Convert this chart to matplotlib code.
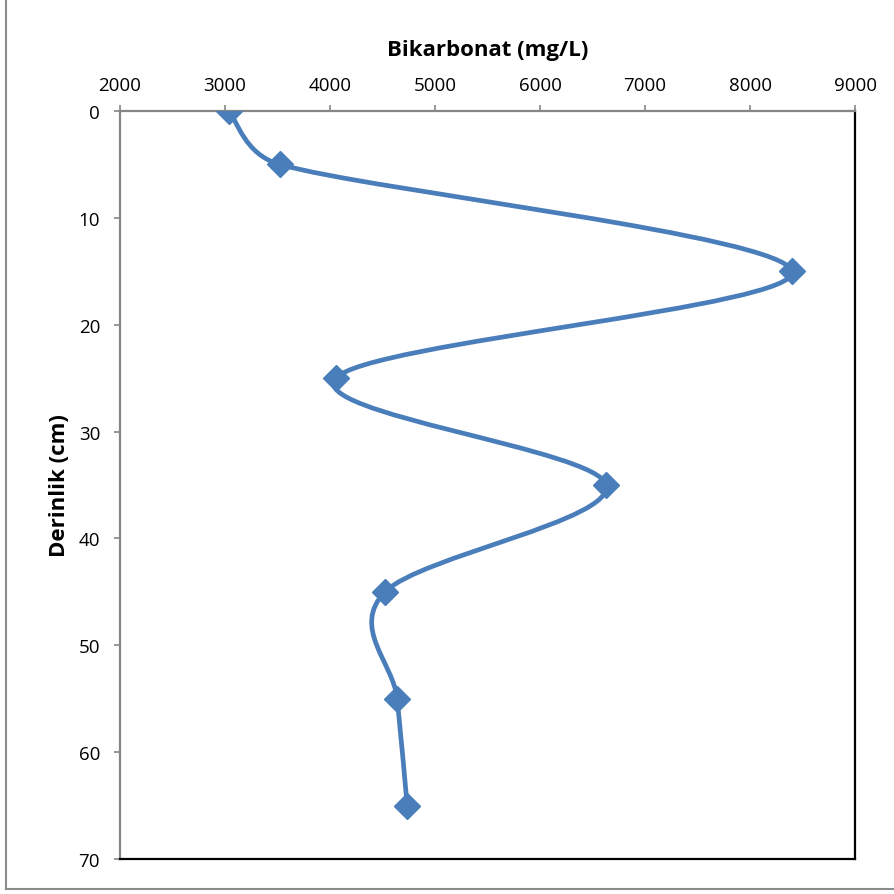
import numpy as np
import matplotlib.pyplot as plt
from matplotlib.path import Path
from matplotlib.patches import PathPatch
from matplotlib.lines import Line2D

# bicarbonate profile vs. depth
derinlik = [0, 5, 15, 25, 35, 45, 55, 65]
bikarbonat = [3035, 3520, 8400, 4055, 6630, 4525, 4640, 4735]

x_ticks = [2000, 3000, 4000, 5000, 6000, 7000, 8000, 9000]
y_ticks = [0, 10, 20, 30, 40, 50, 60, 70]

color = "#4A7EBB"

plt.rcParams["font.family"] = ["Open Sans", "DejaVu Sans"]

fig = plt.figure(figsize=(8.94, 8.95), dpi=100)
ax = fig.add_axes([0.1342, 0.0391, 0.8222, 0.8358])
ax.set_xlim(2000, 9000)
ax.set_ylim(70, 0)


def smooth_path(ax, xs, ys):
    # spreadsheet-style smoothing: Bezier segments with tangents (p2-p0)/6,
    # clamped to half the segment length, worked out in screen pixels
    fig.canvas.draw()
    tr = ax.transData
    pts = tr.transform(np.column_stack([xs, ys]).astype(float))
    n = len(pts)

    def ctrl(a, b, seg):
        v = (b - a) / 6.0
        L = np.hypot(*v)
        if L > seg / 2.0 and L > 0:
            v = v * (seg / 2.0) / L
        return v

    verts = [pts[0]]
    codes = [Path.MOVETO]
    for i in range(n - 1):
        p0 = pts[i - 1] if i > 0 else pts[i]
        p1 = pts[i]
        p2 = pts[i + 1]
        p3 = pts[i + 2] if i + 2 < n else pts[i + 1]
        seg = np.hypot(*(p2 - p1))
        c1 = p1 + ctrl(p0, p2, seg)
        c2 = p2 - ctrl(p1, p3, seg)
        verts += [c1, c2, p2]
        codes += [Path.CURVE4] * 3
    verts = tr.inverted().transform(np.array(verts))
    return Path(verts, codes)


ax.add_patch(PathPatch(smooth_path(ax, bikarbonat, derinlik), facecolor="none",
                       edgecolor=color, lw=3.4, capstyle="round",
                       joinstyle="round", zorder=2))
ax.plot(bikarbonat, derinlik, linestyle="none", marker="D", markersize=13.5,
        color=color, zorder=3)

ax.set_xticks(x_ticks)
ax.set_yticks(y_ticks)
ax.xaxis.tick_top()
ax.xaxis.set_label_position("top")
ax.tick_params(axis="x", direction="out", length=4.3, width=1.2, color="#868686",
               labelsize=13.5, pad=8)
ax.tick_params(axis="y", direction="out", length=4.3, width=1.2, color="#868686",
               labelsize=13.5, pad=10)

for s in ("top", "left"):
    ax.spines[s].set_color("#868686")
    ax.spines[s].set_linewidth(1.6)
for s in ("bottom", "right"):
    ax.spines[s].set_color("black")
    ax.spines[s].set_linewidth(1.6)

ax.set_xlabel("Bikarbonat (mg/L)", fontsize=16, fontweight="bold", labelpad=15)
ax.set_ylabel("Derinlik (cm)", fontsize=16, fontweight="bold", labelpad=6)

# chart area border
fig.add_artist(Line2D([0.0062, 0.0062], [0.006, 1.0], color="#8C8C8C", lw=1.5))
fig.add_artist(Line2D([0.0062, 1.0], [0.006, 0.006], color="#8C8C8C", lw=1.5))

fig.savefig("out.png", dpi=100)
